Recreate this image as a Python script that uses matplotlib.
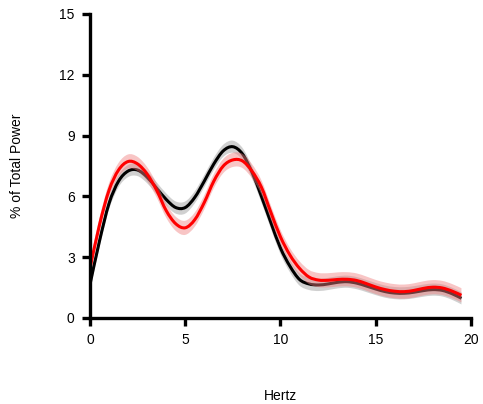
import numpy as np
from matplotlib import pyplot as plt
from matplotlib.path import Path
from matplotlib.patches import PathPatch

plt.rcParams["font.family"] = ["Liberation Sans", "DejaVu Sans"]

# frequency bins (Hz)
hertz = [0.0, 0.5, 1.0, 1.5, 2.0, 2.5, 3.0, 3.5, 4.0, 4.5,
         5.0, 5.5, 6.0, 6.5, 7.0, 7.5, 8.0, 8.5, 9.0, 9.5,
         10.0, 10.5, 11.0, 11.5, 12.0, 12.5, 13.0, 13.5, 14.0, 14.5,
         15.0, 15.5, 16.0, 16.5, 17.0, 17.5, 18.0, 18.5, 19.0, 19.5]

# % of total power, black group
black_mean = [1.65, 3.8, 5.65, 6.75, 7.25, 7.3, 6.95, 6.4, 5.85, 5.45,
              5.45, 5.95, 6.75, 7.6, 8.25, 8.45, 8.1, 7.2, 6.0, 4.7,
              3.45, 2.55, 1.9, 1.68, 1.63, 1.68, 1.76, 1.79, 1.72, 1.58,
              1.43, 1.3, 1.23, 1.22, 1.27, 1.35, 1.4, 1.36, 1.2, 0.97]
black_sem = 0.3

# % of total power, red group
red_mean = [2.45, 4.6, 6.3, 7.3, 7.72, 7.6, 7.1, 6.3, 5.3, 4.65,
            4.45, 4.85, 5.7, 6.75, 7.5, 7.8, 7.75, 7.25, 6.45, 5.2,
            4.0, 3.1, 2.45, 2.02, 1.87, 1.86, 1.9, 1.91, 1.85, 1.7,
            1.53, 1.4, 1.32, 1.3, 1.36, 1.46, 1.52, 1.48, 1.33, 1.12]
red_sem = 0.35


def smooth_segments(xs, ys):
    # catmull-rom -> cubic bezier control points, drawn by matplotlib as CURVE4
    pts = np.column_stack([xs, ys])
    n = len(pts)
    verts = [pts[0]]
    codes = []
    for i in range(n - 1):
        p0 = pts[max(i - 1, 0)]
        p1 = pts[i]
        p2 = pts[i + 1]
        p3 = pts[min(i + 2, n - 1)]
        verts += [p1 + (p2 - p0) / 6, p2 - (p3 - p1) / 6, p2]
        codes += [Path.CURVE4] * 3
    return verts, codes


def smooth_line(ax, xs, ys, color, lw):
    verts, codes = smooth_segments(xs, ys)
    path = Path(verts, [Path.MOVETO] + codes)
    ax.add_patch(PathPatch(path, facecolor="none", edgecolor=color, lw=lw,
                           capstyle="butt", joinstyle="round"))


def smooth_band(ax, xs, lo, hi, color, alpha):
    up_v, up_c = smooth_segments(xs, hi)
    lo_v, lo_c = smooth_segments(xs[::-1], lo[::-1])
    verts = up_v + lo_v + [up_v[0]]
    codes = [Path.MOVETO] + up_c + [Path.LINETO] + lo_c + [Path.CLOSEPOLY]
    ax.add_patch(PathPatch(Path(verts, codes), facecolor=color, edgecolor="none",
                           alpha=alpha))


x = np.array(hertz)
b = np.array(black_mean)
r = np.array(red_mean)

fig = plt.figure(figsize=(4.83, 4.04), dpi=100)
ax = fig.add_axes([0.1863, 0.2129, 0.7888, 0.7525])

smooth_band(ax, x, b - black_sem, b + black_sem, "#bdbdbd", 0.7)
smooth_line(ax, x, b, "black", 2.2)
smooth_band(ax, x, r - red_sem, r + red_sem, "#f08080", 0.45)
smooth_line(ax, x, r, "red", 2.2)

ax.set_xlim(0, 20)
ax.set_ylim(0, 15)
ax.set_xticks([0, 5, 10, 15, 20])
ax.set_yticks([0, 3, 6, 9, 12, 15])

for side in ["top", "right"]:
    ax.spines[side].set_visible(False)
for side in ["left", "bottom"]:
    ax.spines[side].set_linewidth(2.4)
ax.tick_params(width=2.4, length=6, labelsize=10, direction="out", pad=5)

ax.set_xlabel("Hertz", fontsize=10, labelpad=30)
ax.set_ylabel("% of Total Power", fontsize=10, labelpad=25)

plt.savefig("out.png", dpi=100)
